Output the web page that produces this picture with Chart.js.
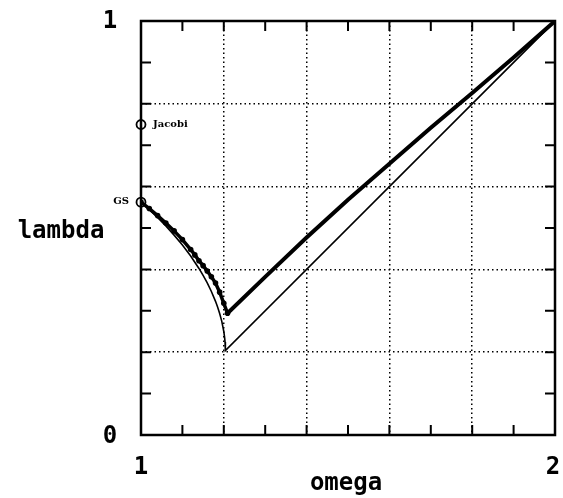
<!DOCTYPE html>
<html>
<head>
<meta charset="utf-8">
<script src="https://cdn.jsdelivr.net/npm/chart.js@4/dist/chart.umd.min.js"></script>
<style>
html,body{margin:0;padding:0;background:#fff;}
#wrap{width:563px;height:498px;position:relative;}
canvas{display:block;}
</style>
</head>
<body>
<div id="wrap"><canvas id="c" width="563" height="498"></canvas></div>
<script>
// ---- data ----
const theoryOmega = [1.0,1.02,1.04,1.06,1.08,1.10,1.12,1.14,1.15,1.16,1.17,1.18,1.185,1.19,1.195,1.20,1.202,1.203,1.2038,2.0];
const theoryLambda = [0.5625,0.5445,0.5254,0.5049,0.4828,0.4588,0.4323,0.4023,0.3856,0.3672,0.3466,0.3229,0.3092,0.2936,0.2750,0.2500,0.2353,0.2245,0.2038,1.0];

const measOmegaLeft = [1.0,1.02,1.04,1.06,1.08,1.10,1.12,1.13,1.14,1.15,1.16,1.17,1.18,1.19,1.20,1.209];
const measLambdaLeft = [0.5625,0.547,0.530,0.512,0.493,0.472,0.448,0.435,0.421,0.409,0.396,0.382,0.367,0.345,0.318,0.294];

const measOmegaRight = [1.209,1.3,1.4,1.5,1.6,1.7,1.8,1.9,2.0];
const measLambdaRight = [0.294,0.382,0.477,0.568,0.655,0.742,0.826,0.912,1.0];

const markOmega = [1.0,1.0];
const markLambda = [0.75,0.5625];
const markLabels = ['Jacobi','GS'];

const xTickLabels = ['1','2'];
const yTickLabels = ['0','1'];
const xTitle = 'omega';
const yTitle = 'lambda';

const pts = (xs, ys) => xs.map((x,i)=>({x:x,y:ys[i]}));

const bigFont = 'bold 24px "DejaVu Sans Mono", monospace';
const smallFont = 'bold 10px "DejaVu Serif", serif';

const decor = {
  id:'decor',
  beforeDatasetsDraw(chart){
    const {ctx, chartArea:a, scales:{x,y}} = chart;
    ctx.save();
    ctx.strokeStyle='#000';
    ctx.lineWidth=2;
    // inward ticks every 0.1
    for(let i=1;i<10;i++){
      const v = 1 + i/10;
      const px = x.getPixelForValue(v);
      ctx.beginPath();
      ctx.moveTo(px,a.bottom); ctx.lineTo(px,a.bottom-10);
      ctx.moveTo(px,a.top); ctx.lineTo(px,a.top+10);
      ctx.stroke();
      const py = y.getPixelForValue(i/10);
      ctx.beginPath();
      ctx.moveTo(a.left,py); ctx.lineTo(a.left+10,py);
      ctx.moveTo(a.right,py); ctx.lineTo(a.right-10,py);
      ctx.stroke();
    }
    // frame
    ctx.lineWidth=2.5;
    ctx.strokeRect(a.left,a.top,a.right-a.left,a.bottom-a.top);
    ctx.restore();
  },
  afterDraw(chart){
    const {ctx, chartArea:a, scales:{x,y}} = chart;
    ctx.save();
    ctx.fillStyle='#000';
    ctx.font=bigFont;
    ctx.textAlign='center';
    ctx.textBaseline='middle';
    ctx.fillText(xTickLabels[0], x.getPixelForValue(1), 468);
    ctx.fillText(xTickLabels[1], x.getPixelForValue(2)-2, 468);
    ctx.fillText(yTickLabels[0], 110, y.getPixelForValue(0)+2);
    ctx.fillText(yTickLabels[1], 110, y.getPixelForValue(1)+1);
    ctx.fillText(xTitle, 346, 484);
    ctx.fillText(yTitle, 61, 232);
    // markers
    ctx.lineWidth=1.8;
    markOmega.forEach((w,i)=>{
      const px=x.getPixelForValue(w), py=y.getPixelForValue(markLambda[i]);
      ctx.beginPath(); ctx.arc(px,py,4.5,0,Math.PI*2); ctx.stroke();
      ctx.font=smallFont;
      ctx.textBaseline='middle';
      if(i===0){ ctx.textAlign='left'; ctx.fillText(markLabels[i], px+12, py); }
      else { ctx.textAlign='right'; ctx.fillText(markLabels[i], px-12, py-1); }
    });
    ctx.restore();
  }
};

const gridOpts = {
  color:(c)=> (c.tick && (Math.abs(c.tick.value - Math.round(c.tick.value))<1e-6)) ? 'rgba(0,0,0,0)' : '#000',
  lineWidth:1.5,
  drawTicks:false
};
const borderOpts = {display:false, dash:[1.5,3]};

new Chart(document.getElementById('c'), {
  type:'scatter',
  data:{datasets:[
    {label:'theory', data:pts(theoryOmega,theoryLambda), showLine:true, borderColor:'#000', borderWidth:1.6, pointRadius:0, tension:0, fill:false},
    {label:'measured', data:pts(measOmegaLeft,measLambdaLeft), showLine:true, borderColor:'#000', backgroundColor:'#000', borderWidth:3.5, pointRadius:2.8, pointBorderWidth:0, tension:0, fill:false},
    {label:'measured2', data:pts(measOmegaRight,measLambdaRight), showLine:true, borderColor:'#000', borderWidth:4, pointRadius:0, tension:0, fill:false}
  ]},
  options:{
    responsive:false,
    animation:false,
    devicePixelRatio:1,
    layout:{padding:{left:141, right:8, top:21, bottom:63}},
    plugins:{legend:{display:false}, tooltip:{enabled:false}},
    scales:{
      x:{type:'linear', min:1, max:2, ticks:{display:false, stepSize:0.2}, grid:gridOpts, border:borderOpts, afterFit:(s)=>{s.height=0;}},
      y:{type:'linear', min:0, max:1, ticks:{display:false, stepSize:0.2}, grid:gridOpts, border:borderOpts, afterFit:(s)=>{s.width=0;}}
    }
  },
  plugins:[decor]
});
</script>
</body>
</html>
